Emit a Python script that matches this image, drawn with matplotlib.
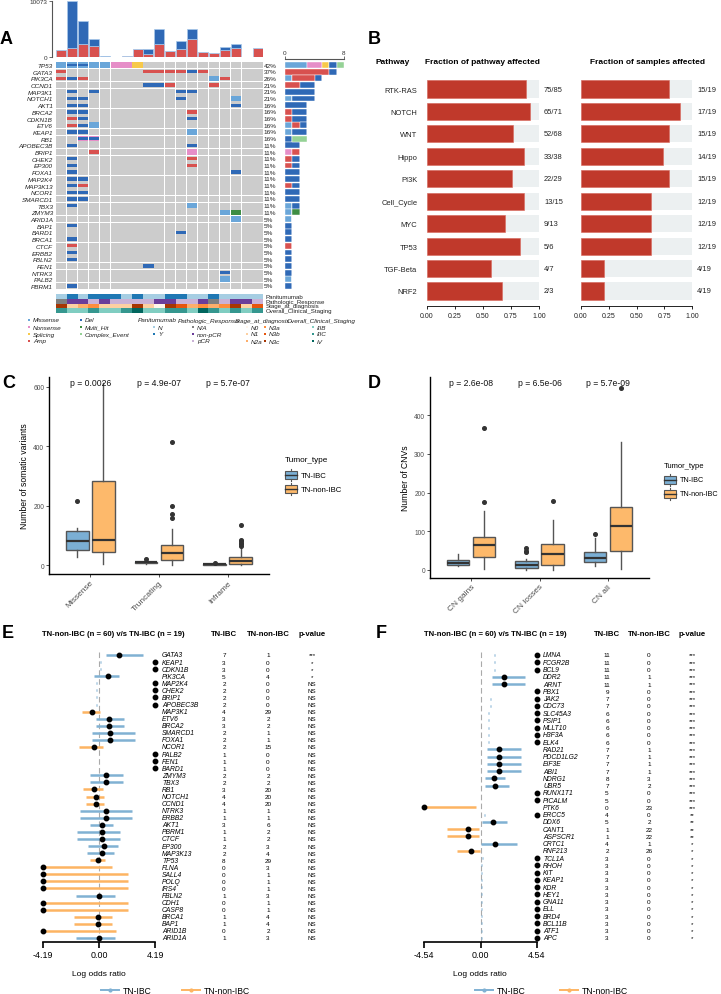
import numpy as np
import matplotlib
matplotlib.use('Agg')
import matplotlib.pyplot as plt
from matplotlib.patches import Rectangle
from matplotlib import transforms

plt.rcParams['font.family'] = ['Liberation Sans', 'DejaVu Sans']

inf = np.inf

# ---------------- data: panel A (oncoprint) ----------------
onco_genes = ['TP53', 'GATA3', 'PIK3CA', 'CCND1', 'MAP3K1', 'NOTCH1', 'AKT1', 'BRCA2', 'CDKN1B',
              'ETV6', 'KEAP1', 'RB1', 'APOBEC3B', 'BRIP1', 'CHEK2', 'EP300', 'FOXA1', 'MAP2K4',
              'MAP3K13', 'NCOR1', 'SMARCD1', 'TBX3', 'ZMYM3', 'ARID1A', 'BAP1', 'BARD1', 'BRCA1',
              'CTCF', 'ERBB2', 'FBLN2', 'FEN1', 'NTRK3', 'PALB2', 'PBRM1']
onco_cells = {
    'TP53': [(0, 'Mis'), (1, 'MisDel'), (2, 'MisDel'), (3, 'Mis'), (4, 'Mis'), (5, 'Non'), (6, 'Non'), (7, 'Spl')],
    'GATA3': [(0, 'Amp'), (8, 'Amp'), (9, 'Amp'), (10, 'Amp'), (11, 'Amp'), (12, 'Del'), (13, 'Amp')],
    'PIK3CA': [(0, 'Amp'), (1, 'Del'), (2, 'Amp'), (14, 'Mis'), (15, 'Amp')],
    'CCND1': [(8, 'Del'), (9, 'Del'), (10, 'Amp'), (14, 'Amp')],
    'MAP3K1': [(1, 'Del'), (3, 'Del'), (11, 'Del'), (12, 'Del')],
    'NOTCH1': [(1, 'Del'), (2, 'Del'), (11, 'Del'), (16, 'Mis')],
    'AKT1': [(1, 'Del'), (2, 'Del'), (16, 'Del')],
    'BRCA2': [(1, 'Del'), (2, 'Del'), (12, 'Amp')],
    'CDKN1B': [(1, 'Amp'), (2, 'Del'), (12, 'Del')],
    'ETV6': [(1, 'Amp'), (2, 'Del'), (3, 'Mis')],
    'KEAP1': [(1, 'Del'), (2, 'Del'), (12, 'Mis')],
    'RB1': [(2, 'Cpx'), (3, 'Cpx')],
    'APOBEC3B': [(1, 'Del'), (12, 'Del')],
    'BRIP1': [(3, 'Amp'), (12, 'Non')],
    'CHEK2': [(1, 'Del'), (12, 'Amp')],
    'EP300': [(1, 'Del'), (12, 'Amp')],
    'FOXA1': [(1, 'Del'), (16, 'Del')],
    'MAP2K4': [(1, 'Del'), (2, 'Del')],
    'MAP3K13': [(1, 'Del'), (2, 'Amp')],
    'NCOR1': [(1, 'Del'), (2, 'Del')],
    'SMARCD1': [(1, 'Del'), (2, 'Del')],
    'TBX3': [(1, 'Del'), (12, 'Mis')],
    'ZMYM3': [(15, 'Mis'), (16, 'Multi')],
    'ARID1A': [(16, 'Mis')],
    'BAP1': [(1, 'Del')],
    'BARD1': [(11, 'Del')],
    'BRCA1': [(1, 'Del')],
    'CTCF': [(1, 'Amp')],
    'ERBB2': [(1, 'Del')],
    'FBLN2': [(1, 'Del')],
    'FEN1': [(8, 'Del')],
    'NTRK3': [(15, 'Del')],
    'PALB2': [(15, 'Mis')],
    'PBRM1': [(1, 'Del')],
}
# counts per gene: Missense, Nonsense, Splicing, Amp, Del, Multi_Hit, Complex_Event
count_types = ['Mis', 'Non', 'Spl', 'Amp', 'Del', 'Multi', 'Cpx']
gene_counts = {
    'TP53': [3, 2, 1, 0, 1, 0, 1], 'GATA3': [0, 0, 0, 6, 1, 0, 0], 'PIK3CA': [1, 0, 0, 3, 1, 0, 0],
    'CCND1': [0, 0, 0, 2, 2, 0, 0], 'MAP3K1': [0, 0, 0, 0, 4, 0, 0], 'NOTCH1': [1, 0, 0, 0, 3, 0, 0],
    'AKT1': [0, 0, 0, 0, 3, 0, 0], 'BRCA2': [0, 0, 0, 1, 2, 0, 0], 'CDKN1B': [0, 0, 0, 1, 2, 0, 0],
    'ETV6': [1, 0, 0, 1, 1, 0, 0], 'KEAP1': [1, 0, 0, 0, 2, 0, 0], 'RB1': [0, 0, 0, 0, 1, 0, 2],
    'APOBEC3B': [0, 0, 0, 0, 2, 0, 0], 'BRIP1': [0, 1, 0, 1, 0, 0, 0], 'CHEK2': [0, 0, 0, 1, 1, 0, 0],
    'EP300': [0, 0, 0, 1, 1, 0, 0], 'FOXA1': [0, 0, 0, 0, 2, 0, 0], 'MAP2K4': [0, 0, 0, 0, 2, 0, 0],
    'MAP3K13': [0, 0, 0, 1, 1, 0, 0], 'NCOR1': [0, 0, 0, 0, 2, 0, 0], 'SMARCD1': [0, 0, 0, 0, 2, 0, 0],
    'TBX3': [1, 0, 0, 0, 1, 0, 0], 'ZMYM3': [1, 0, 0, 0, 0, 1, 0], 'ARID1A': [1, 0, 0, 0, 0, 0, 0],
    'BAP1': [0, 0, 0, 0, 1, 0, 0], 'BARD1': [0, 0, 0, 0, 1, 0, 0], 'BRCA1': [0, 0, 0, 0, 1, 0, 0],
    'CTCF': [0, 0, 0, 1, 0, 0, 0], 'ERBB2': [0, 0, 0, 0, 1, 0, 0], 'FBLN2': [0, 0, 0, 0, 1, 0, 0],
    'FEN1': [0, 0, 0, 0, 1, 0, 0], 'NTRK3': [0, 0, 0, 0, 1, 0, 0], 'PALB2': [1, 0, 0, 0, 0, 0, 0],
    'PBRM1': [0, 0, 0, 0, 1, 0, 0],
}
n_samples = 19
tmb_amp = [1200, 1620, 2280, 1980, 0, 50, 100, 1380, 600, 2400, 1020, 1500, 3180, 840, 660, 1200, 1680, 60, 1620]
tmb_del = [0, 8453, 4320, 1200, 100, 0, 100, 0, 840, 2580, 0, 1380, 1800, 0, 0, 600, 660, 0, 60]

panitumumab = ['N', 'Y', 'N', 'Y', 'Y', 'Y', 'N', 'Y', 'N', 'N', 'Y', 'Y', 'N', 'N', 'Y', 'N', 'N', 'N', 'N']
patho_resp = ['N/A', 'non-pCR', 'non-pCR', 'pCR', 'non-pCR', 'pCR', 'pCR', 'pCR', 'pCR', 'non-pCR',
              'non-pCR', 'pCR', 'pCR', 'non-pCR', 'N/A', 'pCR', 'non-pCR', 'non-pCR', 'pCR']
stage_dx = ['N3c', 'N1', 'N2a', 'N3a', 'N1', 'N1', 'N1', 'N3c', 'N1', 'N0', 'N3c', 'N3b', 'N2a', 'N3a',
            'N2a', 'N3a', 'N3c', 'N1', 'N3b']
overall_stage = ['IIIC', 'IIIB', 'IIIB', 'IIIC', 'IIIB', 'IIIB', 'IIIC', 'IV', 'IIIB', 'IIIB', 'IIIC',
                 'IIIC', 'IIIB', 'IV', 'IIIC', 'IIIB', 'IIIC', 'IIIB', 'IIIC']

# ---------------- data: panel B ----------------
pathways = ['RTK-RAS', 'NOTCH', 'WNT', 'Hippo', 'PI3K', 'Cell_Cycle', 'MYC', 'TP53', 'TGF-Beta', 'NRF2']
path_genes_hit = [75, 65, 52, 33, 22, 13, 9, 5, 4, 2]
path_genes_all = [85, 71, 68, 38, 29, 15, 13, 6, 7, 3]
path_samples_hit = [15, 17, 15, 14, 15, 12, 12, 12, 4, 4]
path_samples_all = [19] * 10

# ---------------- data: panels C, D (box stats: median, q1, q3, whisker lo, whisker hi) ----------------
c_cats = ['Missense', 'Truncating', 'Inframe']
c_ibc = [[80, 51, 114, 27, 125], [9, 6, 12, 2, 16], [2, 0.5, 3.5, 0, 5]]
c_ibc_out = [[215], [22], [6]]
c_non = [[84, 45, 283, 5, 612], [40, 17, 68, 0, 122], [15, 3, 27, 0, 60]]
c_non_out = [[], [157, 170, 197, 413], [65, 70, 75, 80, 85, 135]]
c_pvals = ['p = 0.0026', 'p = 4.9e-07', 'p = 5.7e-07']

d_cats = ['CN gains', 'CN losses', 'CN all']
d_ibc = [[18, 13, 26, 10, 42], [12, 4, 22, 0, 28], [30, 20, 47, 10, 82]]
d_ibc_out = [[], [45, 50, 56], [92]]
d_non = [[64, 33, 85, 3, 153], [40, 13, 68, 0, 130], [113, 48, 163, 3, 330]]
d_non_out = [[175, 368], [177], [470]]
d_pvals = ['p = 2.6e-08', 'p = 6.5e-06', 'p = 5.7e-09']

# ---------------- data: panels E, F (forest) ----------------
e_genes = ['GATA3', 'KEAP1', 'CDKN1B', 'PIK3CA', 'MAP2K4', 'CHEK2', 'BRIP1', 'APOBEC3B', 'MAP3K1', 'ETV6',
           'BRCA2', 'SMARCD1', 'FOXA1', 'NCOR1', 'PALB2', 'FEN1', 'BARD1', 'ZMYM3', 'TBX3', 'RB1', 'NOTCH1',
           'CCND1', 'NTRK3', 'ERBB2', 'AKT1', 'PBRM1', 'CTCF', 'EP300', 'MAP3K13', 'TP53', 'FLNA', 'SALL4',
           'POLQ', 'IRS4', 'FBLN2', 'CDH1', 'CASP8', 'BRCA1', 'BAP1', 'ARID1B', 'ARID1A']
e_lor = [1.52, inf, inf, 0.70, inf, inf, inf, inf, -0.50, 0.72, 0.72, 0.85, 0.85, -0.40, inf, inf, inf,
         0.52, 0.52, -0.40, -0.25, -0.25, 0.52, 0.52, 0.20, 0.20, 0.20, 0.37, 0.22, -0.10, -inf, -inf,
         -inf, -inf, 0.0, -inf, -inf, -0.10, -0.10, -inf, 0.0]
e_lo = [0.52, 0.08, 0.08, -0.35, -0.22, -0.22, -0.22, -0.22, -1.25, -0.25, -0.25, -0.50, -0.50, -1.47,
        -1.08, -1.08, -1.08, -0.67, -0.67, -1.22, -0.97, -0.97, -1.42, -1.42, -0.65, -1.62, -1.62, -0.80,
        -0.87, -0.67, -inf, -inf, -inf, -inf, -1.72, -inf, -inf, -1.87, -1.87, -inf, -1.72]
e_hi = [3.27, 0.14, 0.14, 1.50, -0.16, -0.16, -0.16, -0.16, 0.07, 1.87, 1.87, 2.67, 2.67, 0.32, -1.02,
        -1.02, -1.02, 1.77, 1.77, 0.32, 0.37, 0.37, 2.47, 2.47, 1.02, 1.57, 1.57, 1.42, 1.15, 0.45, 0.95,
        2.14, 2.14, 2.14, 1.20, 2.14, 2.14, 1.00, 1.00, 1.25, 1.20]
e_ibc = [7, 3, 3, 5, 2, 2, 2, 2, 4, 3, 3, 2, 2, 2, 1, 1, 1, 2, 2, 3, 4, 4, 1, 1, 3, 1, 1, 2, 2, 8, 0, 0, 0,
         0, 1, 0, 0, 1, 1, 0, 1]
e_non = [1, 0, 0, 4, 0, 0, 0, 0, 29, 2, 2, 1, 1, 15, 0, 0, 0, 2, 2, 20, 20, 20, 1, 1, 6, 2, 2, 3, 4, 29,
         3, 1, 1, 1, 3, 1, 1, 4, 4, 2, 3]
e_p = ['***', '*', '*', '*'] + ['NS'] * 37

f_genes = ['LMNA', 'FCGR2B', 'BCL9', 'DDR2', 'ARNT', 'PBX1', 'JAK2', 'CDC73', 'SLC45A3', 'PSIP1', 'MLLT10',
           'H3F3A', 'ELK4', 'RAD21', 'PDCD1LG2', 'EIF3E', 'ABI1', 'NDRG1', 'UBR5', 'RUNX1T1', 'PICALM',
           'PTK6', 'ERCC5', 'DDX6', 'CANT1', 'ASPSCR1', 'CRTC1', 'RNF213', 'TCL1A', 'RHOH', 'KIT', 'KEAP1',
           'KDR', 'HEY1', 'GNA11', 'ELL', 'BRD4', 'BCL11B', 'ATF1', 'APC']
f_lor = [inf, inf, inf, 1.86, 1.86, inf, inf, inf, inf, inf, inf, inf, inf, 1.51, 1.51, 1.51, 1.51,
         1.10, 1.19, inf, inf, -inf, inf, 1.02, -1.02, -1.02, 1.19, -0.78] + [inf] * 12
f_lo = [1.10, 1.10, 1.10, 0.92, 0.92, 0.98, 0.76, 0.76, 0.63, 0.63, 0.63, 0.63, 0.63, 0.51, 0.51, 0.51,
        0.51, 0.38, 0.38, 0.49, 0.49, -inf, 0.30, 0.10, -2.67, -2.67, 0.03, -1.86] + [0.14] + [0.05] * 11
f_hi = [1.16, 1.16, 1.16, 3.56, 3.56, 1.04, 0.82, 0.82, 0.69, 0.69, 0.69, 0.69, 0.69, 3.23, 3.23, 3.23,
        3.23, 2.00, 2.26, 0.55, 0.55, -0.38, 0.36, 2.13, -0.10, -0.10, 2.94, -0.08] + [0.20] + [0.11] * 11
f_ibc = [11, 11, 11, 11, 11, 9, 7, 7, 6, 6, 6, 6, 6, 7, 7, 7, 7, 8, 7, 5, 5, 0, 4, 5, 1, 1, 4, 2] + [3] * 12
f_non = [0, 0, 0, 1, 1, 0, 0, 0, 0, 0, 0, 0, 0, 1, 1, 1, 1, 3, 2, 0, 0, 23, 0, 2, 22, 22, 1, 26] + [0] * 12
f_p = ['***'] * 22 + ['**'] * 4 + ['*'] * 14

# ---------------- colours ----------------
mut_colors = {'Mis': '#6aa6d9', 'Non': '#e68ec8', 'Spl': '#f7c94a', 'Amp': '#d8514f', 'Del': '#2f69b6',
              'Multi': '#3e8d43', 'Cpx': '#95d296'}
pan_colors = {'N': '#a6cee3', 'Y': '#1f78b4'}
patho_colors = {'N/A': '#7f7f7f', 'non-pCR': '#6a3d9a', 'pCR': '#cab2d6'}
stage_colors = {'N0': '#fff5eb', 'N1': '#fdd0a2', 'N2a': '#fdae6b', 'N3a': '#fd8d3c', 'N3b': '#e6550d',
                'N3c': '#a63603'}
overall_colors = {'IIIB': '#80cdc1', 'IIIC': '#35978f', 'IV': '#01665e'}
ibc_col = '#7bafd4'
non_col = '#fdb96b'
line_ibc = '#80b1d3'
line_non = '#fdb462'
bar_red = '#c0392b'

W, H = 721, 995
fig = plt.figure(figsize=(W / 100, H / 100), dpi=100)


def px_axes(l, t, r, b):
    return fig.add_axes([l / W, 1 - b / H, (r - l) / W, (b - t) / H])


ov = fig.add_axes([0, 0, 1, 1], zorder=10)
ov.set_xlim(0, W)
ov.set_ylim(H, 0)
ov.axis('off')

for lab, x, y in [('A', 0, 40), ('B', 368, 40), ('C', 2, 384), ('D', 368, 384), ('E', 2, 634), ('F', 376, 634)]:
    ov.text(x, y, lab, fontsize=13, fontweight='bold', va='center', ha='left')

# ================= panel A =================
ng = len(onco_genes)
row_h = (287 - 66) / (ng - 1)
on_top = 66 - row_h / 2
on_bot = on_top + ng * row_h
x_l, x_r = 55.7, 263

ax_on = px_axes(x_l, on_top, x_r, on_bot)
ax_on.set_xlim(0, n_samples)
ax_on.set_ylim(ng, 0)
for i, g in enumerate(onco_genes):
    for j in range(n_samples):
        ax_on.add_patch(Rectangle((j + 0.03, i + 0.04), 0.94, 0.92, color='#cccccc', lw=0))
    for j, t in onco_cells[g]:
        if t in ('Mis', 'Non', 'Spl', 'Multi'):
            ax_on.add_patch(Rectangle((j + 0.03, i + 0.08), 0.94, 0.84, color=mut_colors[t], lw=0))
        elif t in ('Amp', 'Del'):
            ax_on.add_patch(Rectangle((j + 0.03, i + 0.25), 0.94, 0.5, color=mut_colors[t], lw=0))
        elif t == 'MisDel':
            ax_on.add_patch(Rectangle((j + 0.03, i + 0.08), 0.94, 0.84, color=mut_colors['Mis'], lw=0))
            ax_on.add_patch(Rectangle((j + 0.03, i + 0.3), 0.94, 0.4, color=mut_colors['Del'], lw=0))
        elif t == 'Cpx':
            ax_on.add_patch(Rectangle((j + 0.03, i + 0.08), 0.94, 0.84, color=mut_colors['Non'], lw=0))
            ax_on.add_patch(Rectangle((j + 0.03, i + 0.28), 0.94, 0.44, color=mut_colors['Del'], lw=0))
    pct = round(100 * sum(gene_counts[g]) / n_samples)
    ax_on.text(n_samples + 0.05, i + 0.5, f'{pct}%', fontsize=4.6, va='center', ha='left', color='#222')
ax_on.set_yticks(np.arange(ng) + 0.5)
ax_on.set_yticklabels(onco_genes, fontsize=4.6, fontstyle='italic', color='#222')
ax_on.set_xticks([])
ax_on.tick_params(length=0, pad=2)
for s in ax_on.spines.values():
    s.set_visible(False)

# top TMB bars
ax_tmb = px_axes(x_l, 2.3, x_r, 58)
for s in ['top', 'right', 'bottom']:
    ax_tmb.spines[s].set_visible(False)
ax_tmb.spines['left'].set_position(('outward', 3))
ax_tmb.spines['left'].set_color('#555')
ax_tmb.spines['left'].set_linewidth(0.8)
xs = np.arange(n_samples) + 0.5
ax_tmb.bar(xs, tmb_amp, width=0.92, color=mut_colors['Amp'], edgecolor='#a9c9ea', lw=0.5)
ax_tmb.bar(xs, tmb_del, width=0.92, bottom=tmb_amp, color=mut_colors['Del'], edgecolor='#a9c9ea', lw=0.5)
ax_tmb.set_xlim(0, n_samples)
ax_tmb.set_ylim(0, 10073)
ax_tmb.set_yticks([0, 10073])
ax_tmb.set_yticklabels(['0', '10073'], fontsize=4.6, color='#333')
ax_tmb.tick_params(axis='y', length=2, width=0.6, pad=1, color='#555', labelsize=4.6)
ax_tmb.set_xticks([])

# right count bars
ax_rb = px_axes(285, on_top, 344, on_bot)
for s in ['bottom', 'right', 'left']:
    ax_rb.spines[s].set_visible(False)
ax_rb.spines['top'].set_position(('outward', 2))
ax_rb.spines['top'].set_color('#555')
ax_rb.spines['top'].set_linewidth(0.8)
left = np.zeros(ng)
for k, t in enumerate(count_types):
    vals = np.array([gene_counts[g][k] for g in onco_genes])
    ax_rb.barh(np.arange(ng) + 0.5, vals, left=left, height=0.88, color=mut_colors[t], edgecolor='white', lw=0.3)
    left += vals
ax_rb.set_xlim(0, 8)
ax_rb.set_ylim(ng, 0)
ax_rb.set_yticks([])
ax_rb.xaxis.tick_top()
ax_rb.set_xticks([0, 8])
ax_rb.set_xticklabels(['0', '8'], fontsize=4.6, color='#333')
ax_rb.tick_params(axis='x', length=2, width=0.6, pad=1, color='#555', labelsize=4.6)

# annotation tracks
tracks = [(panitumumab, pan_colors, 'Panitumumab'), (patho_resp, patho_colors, 'Pathologic_Response'),
          (stage_dx, stage_colors, 'Stage_at_diagnosis'), (overall_stage, overall_colors, 'Overall_Clinical_Staging')]
ax_an = px_axes(x_l, 295, x_r, 314)
for k, (vals, cmap, name) in enumerate(tracks):
    ax_an.bar(xs, 1, width=1.0, bottom=k, color=[cmap[v] for v in vals], lw=0)
    ov.text(266, 295 + (k + 0.5) * 19 / 4, name, fontsize=4.4, va='center', ha='left', color='#222')
ax_an.set_xlim(0, n_samples)
ax_an.set_ylim(4, 0)
ax_an.axis('off')


# legend of panel A
def leg_item(x, y, c, label):
    ov.scatter([x], [y], marker='s', s=4, color=c, lw=0)
    ov.text(x + 4, y, label, fontsize=4.6, fontstyle='italic', va='center', ha='left', color='#222')


for k, (t, lab) in enumerate([('Mis', 'Missense'), ('Non', 'Nonsense'), ('Spl', 'Splicing'), ('Amp', 'Amp')]):
    leg_item(29, 321 + 7 * k, mut_colors[t], lab)
for k, (t, lab) in enumerate([('Del', 'Del'), ('Multi', 'Multi_Hit'), ('Cpx', 'Complex_Event')]):
    leg_item(81, 321 + 7 * k, mut_colors[t], lab)
for title, x in [('Panitumumab', 138), ('Pathologic_Response', 178), ('Stage_at_diagnosis', 235),
                 ('Overall_Clinical_Staging', 287)]:
    ov.text(x, 321, title, fontsize=4.6, fontstyle='italic', va='center', ha='left', color='#222')
for k, v in enumerate(pan_colors):
    leg_item(154, 328 + 7 * k, pan_colors[v], v)
for k, v in enumerate(patho_colors):
    leg_item(193, 328 + 7 * k, patho_colors[v], v)
for k, v in enumerate(stage_colors):
    leg_item(247 + 18 * (k // 3), 328 + 7 * (k % 3), stage_colors[v], v)
for k, v in enumerate(overall_colors):
    leg_item(313, 328 + 7 * k, overall_colors[v], v)

# ================= panel B =================
ov.text(393, 62, 'Pathway', fontsize=6, fontweight='bold', ha='center', va='center')
ov.text(482, 62, 'Fraction of pathway affected', fontsize=6, fontweight='bold', ha='center', va='center')
ov.text(647, 62, 'Fraction of samples affected', fontsize=6, fontweight='bold', ha='center', va='center')

yb = np.arange(len(pathways))
for (l, r), hit, tot, show_names in [((427, 539), path_genes_hit, path_genes_all, True),
                                     ((581, 692), path_samples_hit, path_samples_all, False)]:
    ax_b = px_axes(l, 78.8, r, 307)
    frac = np.array(hit) / np.array(tot)
    ax_b.barh(yb, 1.0, height=0.76, color='#ecf0f1', lw=0)
    ax_b.barh(yb, frac, height=0.76, color=bar_red, edgecolor='#d9675c', lw=0.4)
    for i in yb:
        ax_b.text(1.045, i, f'{hit[i]}/{tot[i]}', fontsize=5.4, va='center', ha='left', color='#222')
    ax_b.set_xlim(0, 1)
    ax_b.set_ylim(9 + 15 / 22.44, -0.5)
    ax_b.set_xticks([0, 0.25, 0.5, 0.75, 1.0])
    ax_b.set_xticklabels(['0.00', '0.25', '0.50', '0.75', '1.00'], fontsize=5, color='#222')
    ax_b.tick_params(axis='x', length=2, width=0.6, pad=2)
    if show_names:
        ax_b.set_yticks(yb)
        ax_b.set_yticklabels(pathways, fontsize=5.4, color='#222')
        ax_b.tick_params(axis='y', length=0, pad=7)
    else:
        ax_b.set_yticks([])
    for s in ['top', 'right', 'left']:
        ax_b.spines[s].set_visible(False)
    ax_b.spines['bottom'].set_linewidth(0.6)


# ================= panels C and D =================
def make_stats(rows, outs):
    return [dict(med=r[0], q1=r[1], q3=r[2], whislo=r[3], whishi=r[4], fliers=np.array(o, dtype=float))
            for r, o in zip(rows, outs)]


def box_panel(ax, cats, ibc, ibc_out, non, non_out, ylim, yticks, ylabel, pvals, p_y):
    pos = np.arange(1, len(cats) + 1)
    for rows, outs, off, col in ((ibc, ibc_out, -0.19, ibc_col), (non, non_out, 0.19, non_col)):
        ax.bxp(make_stats(rows, outs), positions=pos + off, widths=0.33, patch_artist=True, showcaps=False,
               manage_ticks=False,
               boxprops=dict(facecolor=col, edgecolor='#555555', linewidth=1.0),
               medianprops=dict(color='#333333', linewidth=1.6),
               whiskerprops=dict(color='#555555', linewidth=1.0),
               flierprops=dict(marker='o', markerfacecolor='#333333', markeredgecolor='#333333', markersize=2.6))
    for x, p in zip(pos, pvals):
        ax.text(x, p_y, p, fontsize=6.2, ha='center', va='center', color='#111')
    ax.set_xlim(0.4, len(cats) + 0.6)
    ax.set_ylim(*ylim)
    ax.set_yticks(yticks)
    ax.set_yticklabels([str(v) for v in yticks], fontsize=4.8, color='#4d4d4d')
    ax.set_xticks(pos)
    ax.set_xticklabels(cats, fontsize=6, color='#4d4d4d', rotation=45, ha='right', rotation_mode='anchor')
    ax.tick_params(length=2, width=0.6, pad=1.5, color='#333')
    ax.set_ylabel(ylabel, fontsize=6.2, labelpad=3)
    for s in ['top', 'right']:
        ax.spines[s].set_visible(False)
    for s in ['left', 'bottom']:
        ax.spines[s].set_linewidth(1.0)


ax_c = px_axes(49, 378, 269, 575)
box_panel(ax_c, c_cats, c_ibc, c_ibc_out, c_non, c_non_out, (-30, 632), [0, 200, 400, 600],
          'Number of somatic variants', c_pvals, 615)
ax_d = px_axes(430, 378, 649, 579)
box_panel(ax_d, d_cats, d_ibc, d_ibc_out, d_non, d_non_out, (-21, 499), [0, 100, 200, 300, 400],
          'Number of CNVs', d_pvals, 486)


def box_legend(x, y0, dy, fs):
    ov.text(x, y0 - 15, 'Tumor_type', fontsize=fs + 0.3, ha='left', va='center')
    for k, (col, lab) in enumerate([(ibc_col, 'TN-IBC'), (non_col, 'TN-non-IBC')]):
        yc = y0 + k * dy
        ov.add_patch(Rectangle((x, yc - 4), 12, 8, facecolor=col, edgecolor='#555', lw=0.8))
        ov.plot([x, x + 12], [yc, yc], color='#333', lw=1.0)
        ov.plot([x + 6, x + 6], [yc - 6, yc - 4], color='#555', lw=0.8)
        ov.plot([x + 6, x + 6], [yc + 4, yc + 6], color='#555', lw=0.8)
        ov.text(x + 16, yc, lab, fontsize=fs, ha='left', va='center')


box_legend(285, 476, 14, 5.6)
box_legend(664, 481, 14, 5.2)


# ================= panels E and F =================
def forest(ax, genes, lor, lo, hi, lim, ibc_n, non_n, pv, xs_txt, row_f):
    n = len(genes)
    ax.axvline(0, color='#aaaaaa', ls=(0, (5, 3)), lw=0.8, zorder=0)
    for i in range(n):
        c = line_ibc if lor[i] >= 0 else line_non
        ax.hlines(i, max(lo[i], -lim), min(hi[i], lim), color=c, lw=1.8, zorder=1)
        ax.plot([np.clip(lor[i], -lim, lim)], [i], 'o', color='black', ms=3.2, clip_on=False, zorder=3)
    ax.set_xlim(-lim, lim)
    ax.set_ylim((943 - 656) / row_f, -6 / row_f)
    ax.set_xticks([-lim, 0, lim])
    ax.set_xticklabels([f'{-lim:.2f}', '0.00', f'{lim:.2f}'], fontsize=6.4)
    ax.set_yticks([])
    ax.tick_params(axis='x', length=4, width=1.2, pad=2)
    for s in ['top', 'right', 'left']:
        ax.spines[s].set_visible(False)
    ax.spines['bottom'].set_linewidth(1.2)
    tr = transforms.blended_transform_factory(ov.transData, ax.transData)
    for i in range(n):
        ax.text(xs_txt[0], i, genes[i], transform=tr, fontsize=4.9, fontstyle='italic', ha='left', va='center')
        ax.text(xs_txt[1], i, str(ibc_n[i]), transform=tr, fontsize=4.6, ha='center', va='center')
        ax.text(xs_txt[2], i, str(non_n[i]), transform=tr, fontsize=4.6, ha='center', va='center')
        ax.text(xs_txt[3], i, pv[i], transform=tr, fontsize=4.4, ha='center', va='center')


def forest_labels(xc, xs_txt, y_leg, leg_x):
    ov.text(xc, 634, 'TN-non-IBC (n = 60) v/s TN-IBC (n = 19)', fontsize=5.6, fontweight='bold', ha='center', va='center')
    ov.text(xs_txt[1], 634, 'TN-IBC', fontsize=5.6, fontweight='bold', ha='center', va='center')
    ov.text(xs_txt[2], 634, 'TN-non-IBC', fontsize=5.6, fontweight='bold', ha='center', va='center')
    ov.text(xs_txt[3], 634, 'p-value', fontsize=5.6, fontweight='bold', ha='center', va='center')
    ov.text(leg_x[0] + 5, 975, 'Log odds ratio', fontsize=6, ha='center', va='center')
    for (x0, col, lab) in [(leg_x[1], line_ibc, 'TN-IBC'), (leg_x[2], line_non, 'TN-non-IBC')]:
        ov.plot([x0, x0 + 18], [y_leg, y_leg], color=col, lw=1.4)
        ov.plot([x0 + 9], [y_leg], 'o', color=col, ms=2)
        ov.text(x0 + 22, y_leg, lab, fontsize=6.2, ha='left', va='center')


ax_e = px_axes(43, 650, 155, 943)
e_txt = [162, 224, 268, 312]
forest(ax_e, e_genes, e_lor, e_lo, e_hi, 4.19, e_ibc, e_non, e_p, e_txt, (939 - 656) / 40)
forest_labels(113, e_txt, 991, (94, 101, 182))

ax_f = px_axes(424, 650, 537, 943)
f_txt = [543, 607, 649, 692]
forest(ax_f, f_genes, f_lor, f_lo, f_hi, 4.54, f_ibc, f_non, f_p, f_txt, (939 - 656) / 39)
forest_labels(495, f_txt, 991, (475, 475, 560))

fig.savefig('out.png', dpi=100)
